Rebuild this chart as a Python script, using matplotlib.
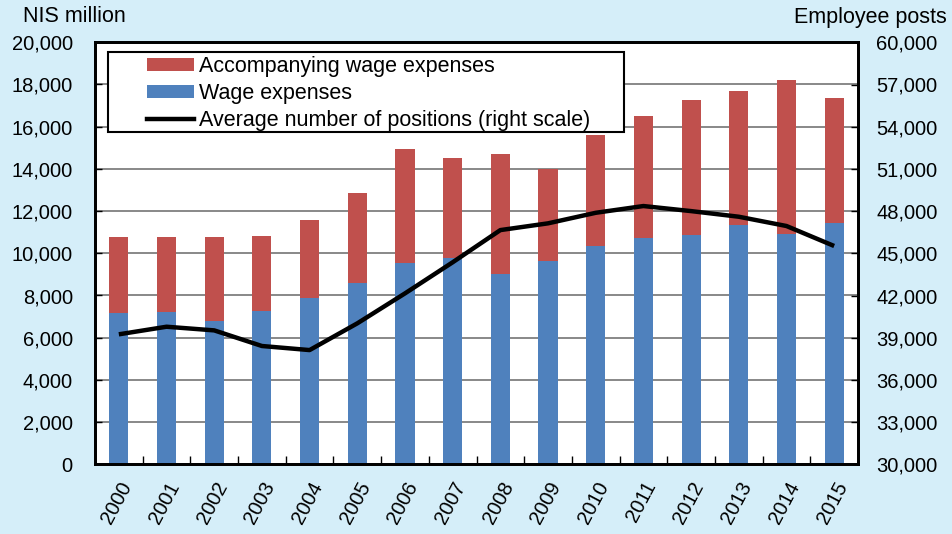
import matplotlib
matplotlib.use("Agg")
import matplotlib.pyplot as plt
from matplotlib.patches import Rectangle, Patch
from matplotlib.lines import Line2D
import numpy as np

plt.rcParams['font.family'] = ['Liberation Sans', 'DejaVu Sans']

years = ['2000', '2001', '2002', '2003', '2004', '2005', '2006', '2007',
         '2008', '2009', '2010', '2011', '2012', '2013', '2014', '2015']
wage = [7190, 7200, 6790, 7250, 7870, 8580, 9540, 9790,
        9000, 9620, 10330, 10710, 10870, 11340, 10900, 11420]
total = [10760, 10770, 10770, 10800, 11560, 12860, 14930, 14520,
         14710, 14000, 15610, 16520, 17270, 17690, 18210, 17350]
accompanying = [t - w for t, w in zip(total, wage)]
positions = [39240, 39780, 39520, 38410, 38120, 40020, 42150, 44360,
             46650, 47130, 47880, 48360, 48000, 47600, 46940, 45520]

left_ticks = [0, 2000, 4000, 6000, 8000, 10000, 12000, 14000, 16000, 18000, 20000]
right_ticks = [30000, 33000, 36000, 39000, 42000, 45000, 48000, 51000, 54000, 57000, 60000]

BG = '#D5EEF9'
RED = '#C0504D'
BLUE = '#4F81BD'
FS = 14.5
FS2 = 15.5

fig = plt.figure(figsize=(9.52, 5.34), dpi=100, facecolor=BG)
ax = fig.add_axes([95/952, 1 - 464.3/534, (858-95)/952, (464.3-42.3)/534])
ax.set_facecolor('white')
x = np.arange(len(years))
ax.bar(x, wage, width=0.4, color=BLUE, zorder=3)
ax.bar(x, accompanying, bottom=wage, width=0.4, color=RED, zorder=3)
ax.set_xlim(-0.5, len(years) - 0.5)
ax.set_ylim(0, 20000)
ax.set_yticks(left_ticks)
ax.set_yticklabels([f'{v:,}' for v in left_ticks], fontsize=FS)
ax.yaxis.grid(True, color='#888888', linewidth=1.4, zorder=0)
ax.set_axisbelow(True)
ax.tick_params(axis='y', direction='in', length=5, width=1, pad=16)
ax.set_xticks(x)
ax.set_xticklabels(years, rotation=62, ha='right', rotation_mode='anchor', fontsize=FS)
ax.tick_params(axis='x', which='major', length=0, pad=10)
ax.set_xticks(np.arange(0.5, len(years) - 0.5, 1), minor=True)
ax.tick_params(axis='x', which='minor', direction='in', length=6, width=1)
for s in ax.spines.values():
    s.set_linewidth(2)
    s.set_zorder(5)

ax2 = ax.twinx()
ax2.plot(x, positions, color='black', linewidth=3.2, solid_capstyle='butt', zorder=6)
ax2.set_ylim(30000, 60000)
ax2.set_yticks(right_ticks)
ax2.set_yticklabels([f'{v:,}' for v in right_ticks], fontsize=FS)
ax2.tick_params(axis='y', direction='in', length=5, width=1, pad=13)
for s in ax2.spines.values():
    s.set_linewidth(2)

fig.text(23/952, 1 - 16/534, 'NIS million', fontsize=FS2, va='center', ha='left')
fig.text(947/952, 1 - 18/534, 'Employee posts', fontsize=FS2, va='center', ha='right')

# legend box
box = Rectangle(((107.7-95)/763, (464.3-132.3)/422), (624-107.7)/763, (132.3-51.7)/422,
                transform=ax2.transAxes, facecolor='white', edgecolor='black',
                linewidth=1.5, zorder=7)
ax2.add_patch(box)
handles = [Patch(facecolor=RED), Patch(facecolor=BLUE),
           Line2D([0], [0], color='black', linewidth=3.2)]
labels = ['Accompanying wage expenses', 'Wage expenses',
          'Average number of positions (right scale)']
leg = ax2.legend(handles, labels, loc='upper left',
                 bbox_to_anchor=((146.7-95)/763, (464.3-56)/422),
                 frameon=False, fontsize=FS2, borderpad=0, borderaxespad=0,
                 handlelength=2.2, handleheight=0.55, handletextpad=0.25, labelspacing=0.28)
leg.set_zorder(8)

fig.savefig('out.png', dpi=100, facecolor=BG)
